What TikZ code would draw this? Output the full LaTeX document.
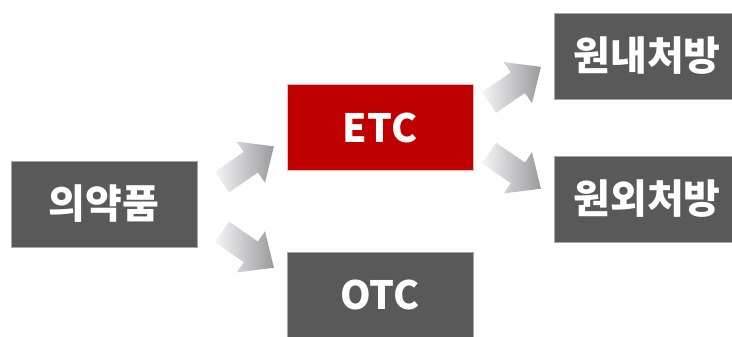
\documentclass[tikz,border=0pt]{standalone}
\usepackage{fontspec}
\newfontfamily\kr{Noto Sans CJK KR}
\definecolor{boxgray}{HTML}{595959}
\definecolor{boxred}{HTML}{C00000}
\definecolor{arrlight}{HTML}{F6F6F8}
\definecolor{arrdark}{HTML}{9A9A9C}
\tikzset{
  blk/.style={fill=boxgray, draw=gray!70, line width=0.4pt, minimum width=186pt, minimum height=86pt,
    inner sep=0pt, text=white, font=\kr\bfseries\fontsize{40}{44}\selectfont},
  redblk/.style={blk, fill=boxred, draw=red!30!white},
  latin/.style={font=\kr\bfseries\fontsize{39}{44}\selectfont},
  blockarrow/.style={left color=arrlight, right color=arrdark, draw=none}
}
\newcommand{\blockarrow}[2]{%
  \begin{scope}[shift={(#1)}, rotate=#2]
    \path[blockarrow] (0pt,-12.5pt) -- (35pt,-12.5pt) -- (35pt,-25pt) -- (63pt,0pt) -- (35pt,25pt) -- (35pt,12.5pt) -- (0pt,12.5pt) -- cycle;
  \end{scope}}
\begin{document}
\begin{tikzpicture}[x=1pt, y=-1pt]
\useasboundingbox (0,0) rectangle (732,337);
\clip (0,0) rectangle (732,337);
\node[blk] (med) at (104,204) {의약품};
\node[redblk, latin] (etc) at (380,127.5) {ETC};
\node[blk, latin] (otc) at (380,295) {OTC};
\node[blk] (inrx) at (647,56) {원내처방};
\node[blk] (outrx) at (647,199) {원외처방};
\coordinate (a1) at (222,182);
\coordinate (a2) at (222,232);
\coordinate (a3) at (489,102.5);
\coordinate (a4) at (489,153);
\blockarrow{a1}{34.5}
\blockarrow{a2}{-34.5}
\blockarrow{a3}{34.5}
\blockarrow{a4}{-34.5}
\end{tikzpicture}
\end{document}
